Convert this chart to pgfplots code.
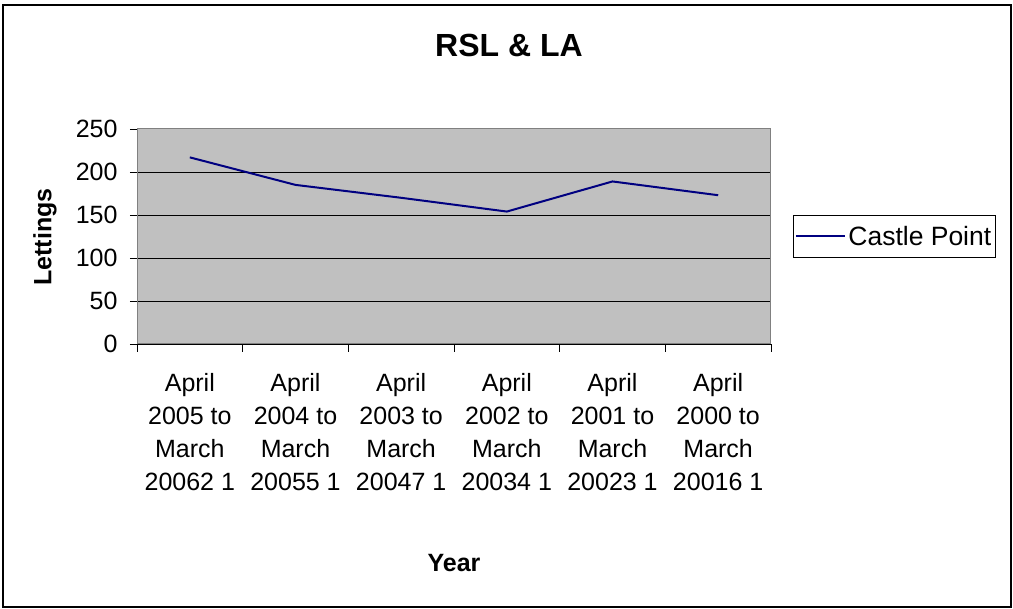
\documentclass[border=0pt]{standalone}
\usepackage{pgfplots}
\pgfplotsset{compat=1.18}
\usepackage{fontspec}
\setmainfont{Liberation Sans}

\definecolor{navyline}{RGB}{0,0,128}
\definecolor{plotgrey}{RGB}{192,192,192}
\definecolor{framegrey}{RGB}{128,128,128}

\begin{document}
\begin{tikzpicture}[x=1pt,y=1pt]
  \useasboundingbox (0,0) rectangle (1013,609);
  \draw[line width=2pt] (3,2) rectangle (1011,604);

  \node[font=\fontsize{32}{38}\selectfont\bfseries] at (509,564) {RSL \& LA};
  \node[font=\fontsize{25}{30}\selectfont\bfseries] at (454,46) {Year};
  \node[font=\fontsize{25}{30}\selectfont\bfseries, rotate=90] at (45,372) {Lettings};

  \begin{axis}[
    at={(137pt,265pt)},
    anchor=south west,
    scale only axis,
    width=634pt,
    height=215pt,
    xmin=0, xmax=6,
    ymin=0, ymax=250,
    /pgf/number format/assume math mode=true,
    axis background/.style={fill=plotgrey},
    axis line style={framegrey, line width=1pt},
    xtick={0.5,1.5,2.5,3.5,4.5,5.5},
    xticklabels={
      {April\\2005 to\\March\\20062 1},
      {April\\2004 to\\March\\20055 1},
      {April\\2003 to\\March\\20047 1},
      {April\\2002 to\\March\\20034 1},
      {April\\2001 to\\March\\20023 1},
      {April\\2000 to\\March\\20016 1}
    },
    xticklabel style={align=center, font=\fontsize{25}{33}\selectfont, yshift=-19pt},
    major x tick style={draw=none},
    minor xtick={0,1,2,3,4,5,6},
    minor x tick style={black, line width=0.8pt},
    minor tick length=8pt,
    ytick={0,50,100,150,200},
    extra y ticks={250},
    extra y tick style={grid=none},
    yticklabel style={font=\fontsize{25}{30}\selectfont, xshift=-9pt},
    y tick style={black, line width=0.8pt},
    major tick length=7pt,
    tick align=outside,
    xtick pos=bottom,
    ytick pos=left,
    ymajorgrids,
    grid style={black, line width=0.8pt},
    legend style={
      at={(1.0347,0.5)}, anchor=west,
      draw=black, fill=white, line width=0.8pt,
      font=\fontsize{26.5}{30}\selectfont,
      inner xsep=2pt, inner ysep=9pt,
    },
    legend image code/.code={\draw[#1, line width=2pt] (12pt,0pt) -- (61pt,0pt);},
  ]
    \addplot[navyline, line width=2pt] coordinates {
      (0.5,217) (1.5,185) (2.5,170) (3.5,154) (4.5,189) (5.5,173)
    };
    \addlegendentry{Castle Point}
  \end{axis}
\end{tikzpicture}
\end{document}
